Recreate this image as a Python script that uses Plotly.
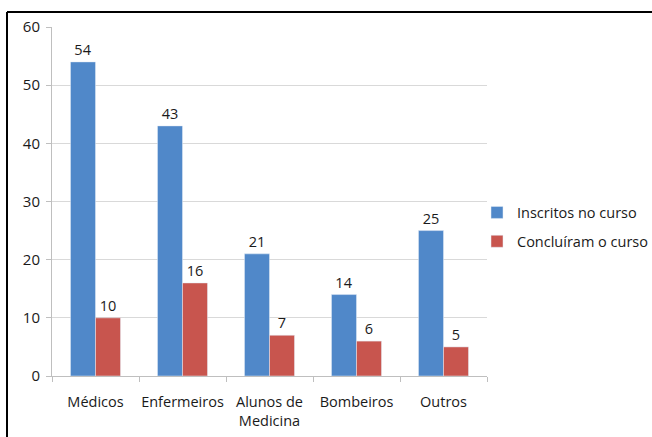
import plotly.graph_objects as go

categories = ["Médicos", "Enfermeiros", "Alunos de<br>Medicina", "Bombeiros", "Outros"]
inscritos = [54, 43, 21, 14, 25]
concluiram = [10, 16, 7, 6, 5]
series_names = ["Inscritos no curso", "Concluíram o curso"]
y_ticks = [0, 10, 20, 30, 40, 50, 60]

FONT = "Open Sans"
FS = 14.5
TXT = "#1a1a1a"
BLUE = "#5088C9"
RED = "#C8554E"
fig = go.Figure()
fig.add_trace(go.Bar(x=categories, y=inscritos, name=series_names[0], marker_color=BLUE,
                     legendgroup="g1",
                     text=inscritos, textposition="outside", cliponaxis=False,
                     textfont=dict(size=FS, color=TXT)))
fig.add_trace(go.Bar(x=categories, y=concluiram, name=series_names[1], marker_color=RED,
                     legendgroup="g2",
                     text=concluiram, textposition="outside", cliponaxis=False,
                     textfont=dict(size=FS, color=TXT)))

L, R, T, B = 52, 165, 27, 61
W, H = 652, 437
pw, ph = W - L - R, H - T - B

def px(x):
    return (x - L) / pw

def py(y):
    return (H - B - y) / ph

fig.update_layout(
    width=W, height=H,
    margin=dict(l=L, r=R, t=T, b=B, pad=0, autoexpand=False),
    paper_bgcolor="white", plot_bgcolor="white",
    barmode="group", bargap=0.425, bargroupgap=0,
    font=dict(family=FONT, size=FS, color=TXT),
    showlegend=True,
    legend=dict(xref="container", yref="container", x=477 / W, y=1 - 227 / H,
                xanchor="left", yanchor="middle",
                font=dict(size=FS, color=TXT), itemwidth=30, tracegroupgap=7,
                bgcolor="rgba(0,0,0,0)"),
    xaxis=dict(showline=True, linecolor="#bfbfbf", linewidth=1, tickangle=0,
               automargin=False, ticklabelstandoff=13,
               ticks="outside", tickson="boundaries", ticklen=5, tickcolor="#bfbfbf",
               showgrid=False, tickfont=dict(size=FS, color=TXT)),
    yaxis=dict(range=[0, 60], tickvals=y_ticks, showline=True, linecolor="#bfbfbf",
               linewidth=1, ticks="outside", ticklen=5, tickcolor="#bfbfbf",
               gridcolor="#d9d9d9", gridwidth=1, zeroline=False, automargin=False,
               ticklabelstandoff=3, tickfont=dict(size=15, color=TXT)),
    shapes=[
        dict(type="line", xref="paper", yref="paper", x0=px(7), x1=px(W + 5),
             y0=py(12), y1=py(12), line=dict(color="#000000", width=2)),
        dict(type="line", xref="paper", yref="paper", x0=px(7), x1=px(7),
             y0=py(12), y1=py(H + 5), line=dict(color="#000000", width=2)),
    ],
)

fig.write_html("out.html", config={"displayModeBar": False},
               post_script="document.body.style.margin='0';")
